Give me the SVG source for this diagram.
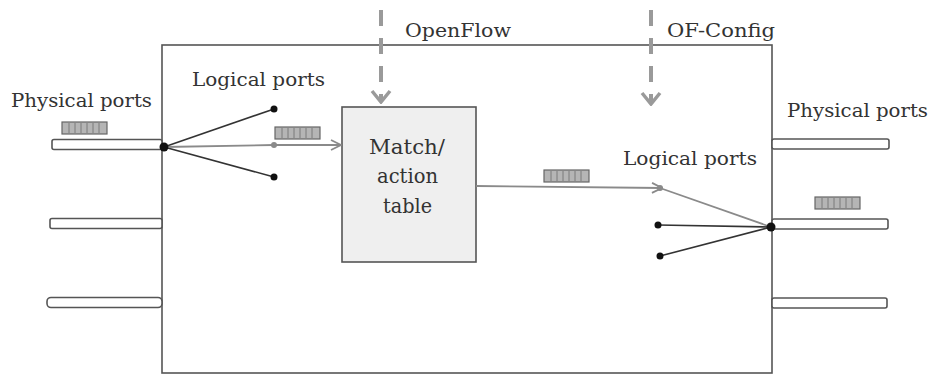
<svg xmlns="http://www.w3.org/2000/svg" width="931" height="375" viewBox="0 0 931 375">
<defs>
<style>
.lbl{font-family:"DejaVu Serif","Liberation Serif",serif;font-size:19px;fill:#333}
.big{font-size:21px}
.bar{fill:#fff;stroke:#555;stroke-width:1.6}
.pkt{fill:#b5b5b5;stroke:#666;stroke-width:1.2}
.hatch{stroke:#7a7a7a;stroke-width:1}
.dk{stroke:#333;stroke-width:1.6;fill:none}
.gr{stroke:#8a8a8a;stroke-width:1.8;fill:none}
.dash{stroke:#9a9a9a;stroke-width:4;stroke-dasharray:16 12;fill:none}
.dot{fill:#111}
.gdot{fill:#8a8a8a}
</style>
<marker id="open" viewBox="0 0 12 12" refX="11" refY="6" markerWidth="12" markerHeight="12" markerUnits="userSpaceOnUse" orient="auto">
<path d="M1,1 L11,6 L1,11" fill="none" stroke="#8a8a8a" stroke-width="1.8"/>
</marker>
<marker id="down" viewBox="0 0 22 15" refX="11" refY="13" markerWidth="22" markerHeight="15" markerUnits="userSpaceOnUse" orient="0">
<path d="M2,2 L11,13 L20,2" fill="none" stroke="#9a9a9a" stroke-width="3.5"/>
</marker>
<g id="pkt">
<rect class="pkt" x="0" y="0" width="45" height="12"/>
<path class="hatch" d="M7,1V11M13,1V11M19,1V11M25,1V11M31,1V11M37,1V11"/>
</g>
</defs>
<rect width="931" height="375" fill="#fff"/>

<g id="switch">
<rect x="162" y="45" width="610" height="328" fill="#fff" stroke="#555" stroke-width="1.6"/>
</g>

<g id="match-table">
<rect x="342" y="107" width="134" height="155" fill="#efefef" stroke="#555" stroke-width="1.6"/>
<text class="lbl big" x="369" y="154" textLength="76" lengthAdjust="spacingAndGlyphs">Match/</text>
<text class="lbl big" x="377" y="183" textLength="61" lengthAdjust="spacingAndGlyphs">action</text>
<text class="lbl big" x="383" y="213" textLength="49" lengthAdjust="spacingAndGlyphs">table</text>
</g>

<g id="left-ports">
<text class="lbl" x="11" y="107" textLength="141" lengthAdjust="spacingAndGlyphs">Physical ports</text>
<use href="#pkt" x="62" y="122"/>
<rect class="bar" x="52" y="139.5" width="110" height="10" rx="2"/>
<rect class="bar" x="50" y="218.5" width="112" height="10" rx="2"/>
<rect class="bar" x="47" y="297.5" width="115" height="10" rx="4"/>
</g>

<g id="right-ports">
<text class="lbl" x="787" y="117" textLength="141" lengthAdjust="spacingAndGlyphs">Physical ports</text>
<use href="#pkt" x="815" y="197"/>
<rect class="bar" x="772" y="139" width="117" height="10" rx="2"/>
<rect class="bar" x="772" y="219" width="116" height="10" rx="2"/>
<rect class="bar" x="772" y="298" width="115" height="10" rx="2"/>
</g>

<g id="left-logical">
<text class="lbl" x="192" y="86" textLength="133" lengthAdjust="spacingAndGlyphs">Logical ports</text>
</g>

<g id="right-logical">
<text class="lbl" x="623" y="165" textLength="134" lengthAdjust="spacingAndGlyphs">Logical ports</text>
</g>

<g id="openflow">
<text class="lbl" x="405" y="37" textLength="106" lengthAdjust="spacingAndGlyphs">OpenFlow</text>
</g>

<g id="of-config">
<text class="lbl" x="667" y="37" textLength="108" lengthAdjust="spacingAndGlyphs">OF-Config</text>
</g>

<g id="connectors">
<path class="dash" d="M381,10 V102" marker-end="url(#down)"/>
<path class="dash" d="M651,10 V104" marker-end="url(#down)"/>
<path class="dk" d="M164,147 L274,109"/>
<path class="dk" d="M164,147 L274,177"/>
<path class="gr" d="M164,147 L274,145 L341,145" marker-end="url(#open)"/>
<circle class="dot" cx="274" cy="109" r="3.5"/>
<circle class="dot" cx="274" cy="177" r="3.5"/>
<circle class="gdot" cx="274" cy="145" r="3"/>
<circle class="dot" cx="164" cy="147" r="4.5"/>
<use href="#pkt" x="275" y="127"/>
<path class="gr" d="M476,186 L662,188" marker-end="url(#open)"/>
<use href="#pkt" x="544" y="170"/>
<path class="gr" d="M660,188 L771,227"/>
<path class="dk" d="M658,225 L771,227"/>
<path class="dk" d="M660,256 L771,227"/>
<circle class="gdot" cx="660" cy="188" r="3"/>
<circle class="dot" cx="658" cy="225" r="3.5"/>
<circle class="dot" cx="660" cy="256" r="3.5"/>
<circle class="dot" cx="771" cy="227" r="4.5"/>
</g>
</svg>
